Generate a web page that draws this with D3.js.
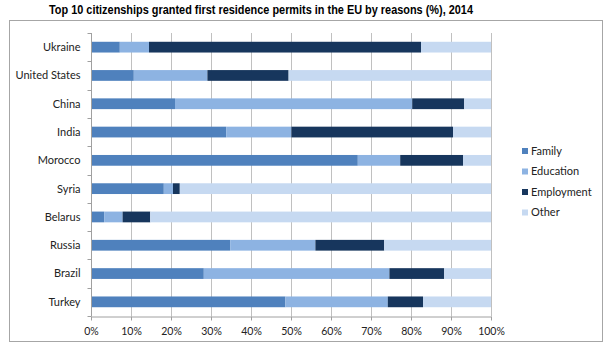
<!DOCTYPE html>
<html>
<head>
<meta charset="utf-8">
<script src="https://cdn.jsdelivr.net/npm/d3@7"></script>
<style>
  body { margin: 0; background: #fff; }
  #chart text { font-family: Lato, "Noto Sans", sans-serif; }
</style>
</head>
<body>
<div id="chart"></div>
<script>
// citizenships, top to bottom
const countries = ["Ukraine", "United States", "China", "India", "Morocco",
                   "Syria", "Belarus", "Russia", "Brazil", "Turkey"];

// share of first permits by reason (%)
const family     = [7.2, 10.7, 21.0, 33.8, 66.7, 18.2, 3.3, 34.8, 28.2, 48.6];
const education  = [7.3, 18.4, 59.3, 16.3, 10.6, 2.3, 4.6, 21.3, 46.4, 25.6];
const employment = [68.0, 20.3, 13.0, 40.4, 15.7, 1.7, 6.9, 17.2, 13.7, 8.8];
const other      = [17.5, 50.6, 6.7, 9.5, 7.0, 77.8, 85.2, 26.7, 11.7, 17.0];

const reasons = ["Family", "Education", "Employment", "Other"];
const colors = ["#4f81bd", "#8db3e2", "#17365d", "#c6d9f1"];
const xTicks = [0, 10, 20, 30, 40, 50, 60, 70, 80, 90, 100];

const width = 610;
const height = 346;
const margin = { top: 33, left: 91, right: 119, bottom: 30 };

const svg = d3.select("#chart")
    .append("svg")
    .attr("width", width)
    .attr("height", height);

// outer frame
svg.append("rect")
    .attr("x", 9.5)
    .attr("y", 20.5)
    .attr("width", 593)
    .attr("height", 321)
    .attr("fill", "none")
    .attr("stroke", "#a6a6a6");

svg.append("text")
    .attr("x", 261)
    .attr("y", 14)
    .attr("text-anchor", "middle")
    .style("font-family", "'Liberation Sans Narrow', 'Liberation Sans', sans-serif")
    .style("font-weight", "bold")
    .style("font-size", "12.5px")
    .attr("textLength", 424)
    .attr("lengthAdjust", "spacingAndGlyphs")
    .text("Top 10 citizenships granted first residence permits in the EU by reasons (%), 2014");

const x = d3.scaleLinear()
    .domain([0, 100])
    .range([margin.left, width - margin.right]);

const y = d3.scaleBand()
    .domain(countries)
    .range([margin.top, height - margin.bottom])
    .paddingInner(0.62)
    .paddingOuter(0.31);

// vertical gridlines
svg.append("g")
    .selectAll("line")
    .data(xTicks.slice(1))
    .enter().append("line")
    .attr("x1", d => Math.round(x(d)) + 0.5)
    .attr("x2", d => Math.round(x(d)) + 0.5)
    .attr("y1", margin.top)
    .attr("y2", height - margin.bottom)
    .attr("stroke", "#c0c0c0");

// stack the four reasons
const rows = countries.map((c, i) => ({
    country: c,
    Family: family[i],
    Education: education[i],
    Employment: employment[i],
    Other: other[i]
}));
const series = d3.stack().keys(reasons)(rows);

svg.append("g")
    .selectAll("g")
    .data(series)
    .enter().append("g")
    .attr("fill", (d, i) => colors[i])
    .selectAll("rect")
    .data(d => d)
    .enter().append("rect")
    .attr("x", d => x(d[0]))
    .attr("y", d => y(d.data.country))
    .attr("width", d => x(d[1]) - x(d[0]))
    .attr("height", y.bandwidth());

// x axis
const xAxis = svg.append("g")
    .attr("transform", `translate(0,${height - margin.bottom + 0.5})`)
    .call(d3.axisBottom(x).tickValues(xTicks).tickFormat(d => d + "%").tickSize(4).tickSizeOuter(0));
xAxis.select(".domain").attr("stroke", "#a0a0a0");
xAxis.selectAll(".tick line").attr("stroke", "#a0a0a0");
xAxis.selectAll("text")
    .attr("dy", "0.71em")
    .attr("y", 11)
    .attr("fill", "#222")
    .style("font-size", "10.5px");

// y axis with ticks between categories
const yAxis = svg.append("g")
    .attr("transform", `translate(${margin.left + 0.5},0)`);
yAxis.append("line")
    .attr("y1", margin.top)
    .attr("y2", height - margin.bottom)
    .attr("stroke", "#a0a0a0");
const step = y.step();
yAxis.selectAll(".sep")
    .data(d3.range(countries.length + 1))
    .enter().append("line")
    .attr("x1", -4)
    .attr("x2", 0)
    .attr("y1", i => Math.round(margin.top + i * step) + 0.5)
    .attr("y2", i => Math.round(margin.top + i * step) + 0.5)
    .attr("stroke", "#a0a0a0");
yAxis.selectAll(".lbl")
    .data(countries)
    .enter().append("text")
    .attr("x", -11)
    .attr("y", d => y(d) + y.bandwidth() / 2)
    .attr("dy", "0.35em")
    .attr("text-anchor", "end")
    .attr("fill", "#222")
    .style("font-size", "11px")
    .text(d => d);

// legend
const legend = svg.append("g")
    .attr("transform", "translate(522,151)");
const item = legend.selectAll("g")
    .data(reasons)
    .enter().append("g")
    .attr("transform", (d, i) => `translate(0,${i * 20.5})`);
item.append("rect")
    .attr("x", 0)
    .attr("y", -3)
    .attr("width", 6)
    .attr("height", 6)
    .attr("fill", (d, i) => colors[i]);
item.append("text")
    .attr("x", 9)
    .attr("dy", "0.35em")
    .attr("fill", "#222")
    .style("font-size", "11px")
    .text(d => d);
</script>
</body>
</html>
